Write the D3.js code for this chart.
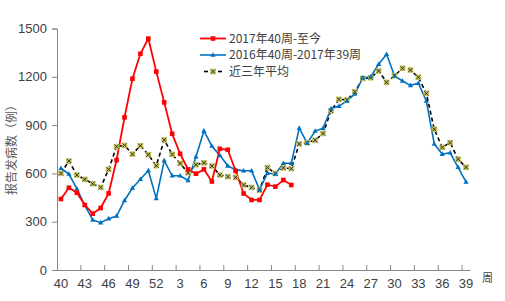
<!DOCTYPE html>
<html>
<head>
<meta charset="utf-8">
<script src="https://cdn.jsdelivr.net/npm/d3@7"></script>
<style>
  body { margin: 0; background: #fff; }
  text { font-family: "Liberation Sans", "Noto Sans CJK SC", sans-serif; }
</style>
</head>
<body>
<div id="chart"></div>
<script>
// week categories: 2017 wk40 .. 2018 wk39
var weeks = [40,41,42,43,44,45,46,47,48,49,50,51,52,
  1,2,3,4,5,6,7,8,9,10,11,12,13,14,15,16,17,18,19,20,
  21,22,23,24,25,26,27,28,29,30,31,32,33,34,35,36,37,38,39];

// 2017年40周-至今 (up to week 17)
var current = [441,511,480,404,350,385,476,683,948,1188,1343,1437,1232,
  1041,846,722,625,598,625,550,753,747,615,475,435,435,530,518,559,528];

// 2016年40周-2017年39周
var lastYear = [632,596,505,402,311,294,319,335,432,509,564,618,445,
  680,585,585,556,704,864,770,712,647,622,616,616,499,602,596,663,663,
  881,788,863,880,1002,1018,1050,1093,1194,1200,1278,1340,1205,1174,1147,1160,
  1050,783,720,728,638,547];

// 近三年平均
var avg3 = [600,677,590,563,536,513,625,766,774,720,772,716,648,
  808,718,662,604,654,666,646,590,580,575,528,513,495,636,600,634,630,
  783,791,806,848,988,1060,1056,1107,1190,1194,1236,1166,1207,1253,1242,1197,
  1097,874,762,791,688,638];

var yTicks = [0,300,600,900,1200,1500];
var seriesNames = ["2017年40周-至今", "2016年40周-2017年39周", "近三年平均"];

var width = 505, height = 301;
var svg = d3.select("#chart").append("svg")
    .attr("width", width)
    .attr("height", height);

var x = d3.scaleBand()
    .domain(weeks.map(String))
    .range([57, 470])
    .padding(0);

var y = d3.scaleLinear()
    .domain([0, 1500])
    .range([270, 28.5]);

var cx = function(i) { return x(String(weeks[i])) + x.bandwidth() / 2; };

// y axis
var yAxis = svg.append("g")
    .attr("transform", "translate(57,0)")
    .call(d3.axisLeft(y).tickValues(yTicks).tickFormat(d3.format("d")).tickSize(5).tickPadding(5));
yAxis.select(".domain").attr("stroke", "#868686");
yAxis.selectAll(".tick line").attr("stroke", "#868686");
yAxis.selectAll("text")
    .attr("fill", "#404040")
    .style("font-size", "13px");

// x axis: labels every 3 weeks at band centres, ticks at band edges
var xLabelWeeks = weeks.filter(function(d, i) { return i % 3 === 0; }).map(String);
var xAxis = svg.append("g")
    .attr("transform", "translate(0,270)")
    .call(d3.axisBottom(x).tickValues(xLabelWeeks).tickSize(0).tickPadding(9));
xAxis.select(".domain").attr("stroke", "#868686");
xAxis.selectAll("text")
    .attr("fill", "#404040")
    .style("font-size", "13px");

svg.append("g").selectAll("line")
    .data(weeks.filter(function(d, i) { return i > 0 && i % 3 === 0; }))
  .enter().append("line")
    .attr("x1", function(d) { return x(String(d)); })
    .attr("x2", function(d) { return x(String(d)); })
    .attr("y1", 270)
    .attr("y2", 265)
    .attr("stroke", "#868686");

// unit label
svg.append("text")
    .attr("x", 482)
    .attr("y", 282)
    .attr("fill", "#404040")
    .style("font-family", "Noto Sans CJK SC")
    .style("font-size", "11px")
    .text("周");

// y title
svg.append("text")
    .attr("transform", "translate(16,147) rotate(-90)")
    .attr("text-anchor", "middle")
    .attr("fill", "#595959")
    .style("font-family", "Noto Sans CJK SC")
    .style("font-size", "12px")
    .text("报告发病数（例）");

var line = d3.line()
    .x(function(d, i) { return cx(i); })
    .y(function(d) { return y(d); });

// average (dashed)
svg.append("path")
    .datum(avg3)
    .attr("fill", "none")
    .attr("stroke", "#000")
    .attr("stroke-width", 1.6)
    .attr("stroke-dasharray", "4,3")
    .attr("d", line);

// last year (blue)
svg.append("path")
    .datum(lastYear)
    .attr("fill", "none")
    .attr("stroke", "#0070c0")
    .attr("stroke-width", 1.6)
    .attr("d", line);

// current (red)
svg.append("path")
    .datum(current)
    .attr("fill", "none")
    .attr("stroke", "#ff0000")
    .attr("stroke-width", 1.8)
    .attr("d", line);

var triangle = "M0,-2.8L2.6,1.8L-2.6,1.8Z";
var xMark = "M-2,-2L2,2M-2,2L2,-2";

// markers
var avgMarks = svg.append("g").selectAll("g")
    .data(avg3)
  .enter().append("g")
    .attr("transform", function(d, i) { return "translate(" + cx(i) + "," + y(d) + ")"; });
avgMarks.append("rect")
    .attr("x", -2.8).attr("y", -2.8)
    .attr("width", 5.6).attr("height", 5.6)
    .attr("fill", "#c8c45a");
avgMarks.append("path")
    .attr("d", xMark)
    .attr("stroke", "#333")
    .attr("stroke-width", 1);

svg.append("g").selectAll("path")
    .data(lastYear)
  .enter().append("path")
    .attr("d", triangle)
    .attr("fill", "#0070c0")
    .attr("transform", function(d, i) { return "translate(" + cx(i) + "," + y(d) + ")"; });

svg.append("g").selectAll("rect")
    .data(current)
  .enter().append("rect")
    .attr("x", function(d, i) { return cx(i) - 2.3; })
    .attr("y", function(d) { return y(d) - 2.3; })
    .attr("width", 4.6)
    .attr("height", 4.6)
    .attr("fill", "#ff0000");

// legend
var legend = svg.append("g");
var rows = [38.5, 55, 71.5];

legend.append("line")
    .attr("x1", 200).attr("x2", 226).attr("y1", rows[0]).attr("y2", rows[0])
    .attr("stroke", "#ff0000").attr("stroke-width", 1.8);
legend.append("rect")
    .attr("x", 210.7).attr("y", rows[0] - 2.3).attr("width", 4.6).attr("height", 4.6)
    .attr("fill", "#ff0000");

legend.append("line")
    .attr("x1", 200).attr("x2", 226).attr("y1", rows[1]).attr("y2", rows[1])
    .attr("stroke", "#0070c0").attr("stroke-width", 1.6);
legend.append("path")
    .attr("d", triangle)
    .attr("fill", "#0070c0")
    .attr("transform", "translate(213," + rows[1] + ")");

legend.append("line")
    .attr("x1", 204).attr("x2", 208).attr("y1", rows[2]).attr("y2", rows[2])
    .attr("stroke", "#000").attr("stroke-width", 1.6);
legend.append("line")
    .attr("x1", 218).attr("x2", 222).attr("y1", rows[2]).attr("y2", rows[2])
    .attr("stroke", "#000").attr("stroke-width", 1.6);
var lm = legend.append("g").attr("transform", "translate(213," + rows[2] + ")");
lm.append("rect")
    .attr("x", -2.8).attr("y", -2.8).attr("width", 5.6).attr("height", 5.6)
    .attr("fill", "#c8c45a");
lm.append("path").attr("d", xMark).attr("stroke", "#333").attr("stroke-width", 1);

legend.selectAll("text")
    .data(seriesNames)
  .enter().append("text")
    .attr("x", 229)
    .attr("y", function(d, i) { return rows[i]; })
    .attr("dy", "0.36em")
    .attr("fill", "#404040")
    .style("font-family", "Noto Sans CJK SC")
    .style("font-size", "12px")
    .text(function(d) { return d; });
</script>
</body>
</html>
